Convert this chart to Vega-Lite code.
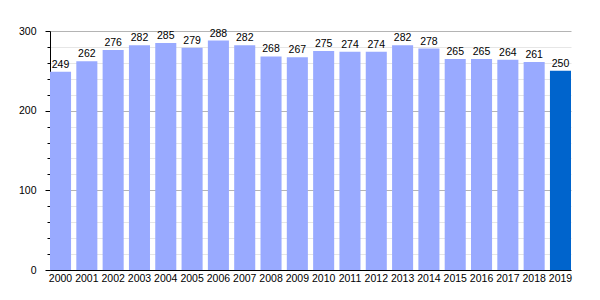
{
  "$schema": "https://vega.github.io/schema/vega-lite/v6.json",
  "width": 521,
  "height": 239,
  "autosize": {"type": "none"},
  "padding": {"left": 50, "top": 31, "right": 29, "bottom": 30},
  "background": "white",
  "config": {"view": {"stroke": null}, "font": "Liberation Sans"},
  "data": {"values": [
    {"year": "2000", "value": 249, "last": "no"},
    {"year": "2001", "value": 262, "last": "no"},
    {"year": "2002", "value": 276, "last": "no"},
    {"year": "2003", "value": 282, "last": "no"},
    {"year": "2004", "value": 285, "last": "no"},
    {"year": "2005", "value": 279, "last": "no"},
    {"year": "2006", "value": 288, "last": "no"},
    {"year": "2007", "value": 282, "last": "no"},
    {"year": "2008", "value": 268, "last": "no"},
    {"year": "2009", "value": 267, "last": "no"},
    {"year": "2010", "value": 275, "last": "no"},
    {"year": "2011", "value": 274, "last": "no"},
    {"year": "2012", "value": 274, "last": "no"},
    {"year": "2013", "value": 282, "last": "no"},
    {"year": "2014", "value": 278, "last": "no"},
    {"year": "2015", "value": 265, "last": "no"},
    {"year": "2016", "value": 265, "last": "no"},
    {"year": "2017", "value": 264, "last": "no"},
    {"year": "2018", "value": 261, "last": "no"},
    {"year": "2019", "value": 250, "last": "yes"}
  ]},
  "encoding": {
    "x": {
      "field": "year", "type": "ordinal",
      "scale": {"paddingInner": 0.2, "paddingOuter": 0},
      "axis": {"title": null, "labelAngle": 0, "ticks": false, "labelPadding": 3,
               "labelFontSize": 10.5, "labelColor": "black", "domainColor": "black", "domainWidth": 1}
    },
    "y": {
      "field": "value", "type": "quantitative",
      "scale": {"domain": [0, 300], "nice": false},
      "axis": {
        "title": null,
        "values": [0,20,40,60,80,100,120,140,160,180,200,220,240,260,280,300],
        "labelExpr": "datum.value % 100 === 0 ? datum.label : ''",
        "grid": true,
        "gridColor": {"condition": {"test": "datum.value % 100 === 0", "value": "#b4b4b4"}, "value": "#e6e6e6"},
        "tickSize": {"condition": {"test": "datum.value % 100 === 0", "value": 5}, "value": 3},
        "tickColor": "black",
        "domainColor": "black",
        "labelPadding": 9,
        "labelFontSize": 10.5,
        "labelColor": "black"
      }
    }
  },
  "layer": [
    {
      "mark": {"type": "bar"},
      "encoding": {
        "color": {
          "field": "last", "type": "nominal",
          "scale": {"domain": ["no", "yes"], "range": ["#99aaff", "#0064cc"]},
          "legend": null
        }
      }
    },
    {
      "mark": {"type": "text", "baseline": "bottom", "dy": -2, "fontSize": 10.5, "color": "black"},
      "encoding": {"text": {"field": "value", "type": "quantitative"}}
    }
  ]
}
